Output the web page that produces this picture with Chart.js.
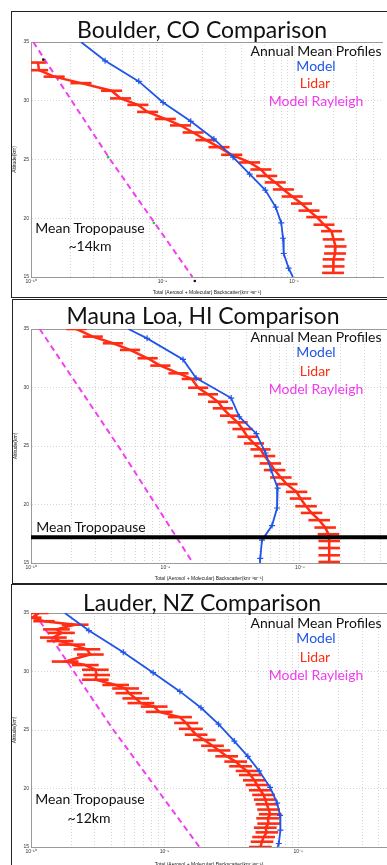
<!DOCTYPE html>
<html>
<head>
<meta charset="utf-8">
<script src="https://cdn.jsdelivr.net/npm/chart.js@4.4.1/dist/chart.umd.min.js"></script>
<style>
  html, body { margin: 0; padding: 0; background: #fff; }
  body { width: 387px; height: 865px; overflow: hidden; position: relative; font-family: Lato, "Open Sans", sans-serif; }
  .panel { position: absolute; border-left: 1px solid #222; border-top: 1px solid #222; border-bottom: 1px solid #222; background: #fff; }
  .panel canvas { position: absolute; left: 0; top: 0; }
  .txt { position: absolute; white-space: nowrap; transform: translate(-50%, -50%); line-height: 1; }
  .title { font-size: 23px; color: #111; }
  .leg { font-size: 14px; color: #111; }
  .blue { color: #1f55e8; }
  .red { color: #ff2d14; }
  .mag { color: #ee3cee; }
</style>
</head>
<body>

<div class="panel" style="left:11px; top:11px; width:376px; height:285px;"><canvas id="c1" width="375" height="285"></canvas></div>
<div class="panel" style="left:12px; top:299px; width:375px; height:283px;"><canvas id="c2" width="374" height="283"></canvas></div>
<div class="panel" style="left:11px; top:584px; width:376px; height:290px;"><canvas id="c3" width="375" height="284"></canvas></div>

<div class="txt title" style="left:202px; top:29px;">Boulder, CO Comparison</div>
<div class="txt leg" style="left:316px; top:51px;">Annual Mean Profiles</div>
<div class="txt leg blue" style="left:316px; top:66px;">Model</div>
<div class="txt leg red" style="left:315px; top:83px;">Lidar</div>
<div class="txt leg mag" style="left:316px; top:101px;">Model Rayleigh</div>
<div class="txt leg" style="left:90px; top:228px;">Mean Tropopause</div>
<div class="txt leg" style="left:90px; top:246px;">~14km</div>

<div class="txt title" style="left:203px; top:315px;">Mauna Loa, HI Comparison</div>
<div class="txt leg" style="left:316px; top:337px;">Annual Mean Profiles</div>
<div class="txt leg blue" style="left:316px; top:352px;">Model</div>
<div class="txt leg red" style="left:315px; top:371px;">Lidar</div>
<div class="txt leg mag" style="left:316px; top:389px;">Model Rayleigh</div>
<div class="txt leg" style="left:91px; top:527px;">Mean Tropopause</div>

<div class="txt title" style="left:202px; top:602px;">Lauder, NZ Comparison</div>
<div class="txt leg" style="left:316px; top:623px;">Annual Mean Profiles</div>
<div class="txt leg blue" style="left:316px; top:638px;">Model</div>
<div class="txt leg red" style="left:315px; top:657px;">Lidar</div>
<div class="txt leg mag" style="left:316px; top:675px;">Model Rayleigh</div>
<div class="txt leg" style="left:90px; top:799px;">Mean Tropopause</div>
<div class="txt leg" style="left:89px; top:818px;">~12km</div>

<script>
// axis ticks
const yTicks = [15, 20, 25, 30, 35];
const xDecades = [1e-10, 1e-9, 1e-8];
const xDecadeLabels = ['10\u207B\u00B9\u2070', '10\u207B\u2079', '10\u207B\u2078'];
const xMinor = [1, 2, 3, 4, 5, 6, 7, 8, 9];
const xTitle = 'Total (Aerosol + Molecular) Backscatter(km\u207B\u00B9sr\u207B\u00B9)';
const yTitle = 'Altitude(km)';

// Boulder, CO
const boulderModelAlt = [35.0, 33.4, 31.65, 29.85, 28.25, 26.75, 25.2, 23.75, 22.4, 20.95, 19.6, 18.3, 17.0, 15.75, 15.0];
const boulderModelVal = [2.40e-10, 3.66e-10, 6.6e-10, 1.01e-9, 1.64e-9, 2.46e-9, 3.44e-9, 4.6e-9, 6.05e-9, 7.25e-9, 8.0e-9, 8.25e-9, 8.35e-9, 9.1e-9, 9.8e-9];
const boulderLidarAlt = [33.25, 32.6, 32.05, 31.5, 30.85, 30.2, 29.65, 29.05, 28.45, 27.9, 27.3, 26.65, 26.05, 25.4, 24.75, 24.15, 23.6, 23.05, 22.45, 21.85, 21.25, 20.65, 20.1, 19.45, 18.9, 18.2, 17.6, 17.0, 16.5, 15.9, 15.35];
const boulderLidarVal = [1.13e-10, 1.15e-10, 1.5e-10, 2.4e-10, 4.1e-10, 4.8e-10, 6.5e-10, 7.7e-10, 1.05e-9, 1.37e-9, 1.71e-9, 2.14e-9, 2.69e-9, 3.36e-9, 4.6e-9, 5.6e-9, 6.2e-9, 7.2e-9, 8.3e-9, 9.7e-9, 1.14e-8, 1.3e-8, 1.49e-8, 1.69e-8, 1.93e-8, 2.0e-8, 2.07e-8, 2.05e-8, 2.0e-8, 2.0e-8, 1.98e-8];
const boulderLidarErr = [0.06, 0.07, 0.08, 0.08, 0.08, 0.08, 0.08, 0.08, 0.08, 0.08, 0.08, 0.08, 0.08, 0.08, 0.08, 0.08, 0.08, 0.08, 0.08, 0.08, 0.08, 0.08, 0.08, 0.08, 0.08, 0.083, 0.083, 0.083, 0.083, 0.083, 0.083];
const boulderRayAlt = [35, 25, 15];
const boulderRayVal = [1.04e-10, 4.0e-10, 1.69e-9];
const boulderDotAlt = [33.5, 25.2, 19.6, 14.66];
const boulderDotVal = [1.24e-10, 3.86e-10, 8.6e-10, 1.76e-9];
const boulderDotColor = ['#111', '#22cc33', '#22cc33', '#111'];

// Mauna Loa, HI
const maunaModelAlt = [35.0, 34.2, 32.4, 30.8, 29.1, 27.5, 26.05, 24.4, 22.95, 21.4, 19.7, 18.2, 16.95, 15.4, 15.0];
const maunaModelVal = [5.3e-10, 7.3e-10, 1.35e-9, 1.69e-9, 3.08e-9, 3.54e-9, 4.74e-9, 5.55e-9, 6.1e-9, 6.83e-9, 6.76e-9, 6.2e-9, 5.22e-9, 5.07e-9, 5.05e-9];
const maunaLidarAlt = [35.0, 34.35, 33.78, 33.21, 32.5, 31.87, 31.21, 30.73, 29.98, 29.42, 28.78, 28.22, 27.59, 27.02, 26.45, 25.79, 25.22, 24.71, 24.14, 23.51, 22.94, 22.31, 21.74, 21.08, 20.51, 19.85, 19.28, 18.66, 18.03, 17.46, 16.88, 16.28, 15.66, 15.09];
const maunaLidarVal = [2.18e-10, 2.88e-10, 4.07e-10, 5.45e-10, 7.37e-10, 9.16e-10, 1.25e-9, 1.57e-9, 1.75e-9, 2.07e-9, 2.46e-9, 2.67e-9, 3.02e-9, 3.44e-9, 3.74e-9, 4.07e-9, 4.55e-9, 5.09e-9, 5.45e-9, 6.03e-9, 6.48e-9, 7.21e-9, 7.98e-9, 9.44e-9, 1.01e-8, 1.11e-8, 1.22e-8, 1.39e-8, 1.54e-8, 1.63e-8, 1.65e-8, 1.65e-8, 1.65e-8, 1.65e-8];
const maunaLidarErr = [0.075, 0.075, 0.075, 0.075, 0.075, 0.075, 0.075, 0.075, 0.075, 0.075, 0.075, 0.075, 0.075, 0.075, 0.075, 0.075, 0.075, 0.075, 0.08, 0.08, 0.08, 0.08, 0.08, 0.08, 0.08, 0.08, 0.08, 0.08, 0.08, 0.08, 0.08, 0.08, 0.08, 0.08];
const maunaRayAlt = [35, 24.8, 15];
const maunaRayVal = [1.16e-10, 4.57e-10, 1.6e-9];
const maunaTropopause = 17.2;

// Lauder, NZ
const lauderModelAlt = [35.0, 33.5, 31.65, 29.9, 28.3, 26.9, 25.5, 24.05, 22.75, 21.5, 20.1, 18.75, 17.7, 16.45, 15.3, 15.0];
const lauderModelVal = [1.79e-10, 2.71e-10, 4.9e-10, 8.2e-10, 1.3e-9, 1.87e-9, 2.53e-9, 3.32e-9, 4.19e-9, 5.1e-9, 6.15e-9, 6.95e-9, 7.3e-9, 7.35e-9, 7.15e-9, 7.0e-9];
const lauderLidarAlt = [35.0, 34.6, 34.3, 34.0, 33.6, 33.3, 32.9, 32.6, 32.3, 31.9, 31.45, 30.85, 30.55, 30.15, 29.7, 29.3, 28.85, 28.55, 28.15, 27.7, 27.3, 27.0, 26.55, 26.1, 25.6, 25.1, 24.6, 24.15, 23.65, 23.25, 22.75, 22.3, 21.9, 21.5, 21.15, 20.7, 20.3, 19.85, 19.45, 19.05, 18.65, 18.2, 17.8, 17.45, 17.0, 16.65, 16.25, 15.85, 15.45, 15.0];
const lauderLidarVal = [1.15e-10, 1.02e-10, 1.25e-10, 2.14e-10, 1.55e-10, 1.69e-10, 1.47e-10, 1.65e-10, 2.02e-10, 2.62e-10, 2.78e-10, 1.8e-10, 2.55e-10, 3.03e-10, 3.1e-10, 3.03e-10, 4.3e-10, 5.1e-10, 5.4e-10, 6.08e-10, 6.64e-10, 8.35e-10, 9.1e-10, 1.3e-9, 1.45e-9, 1.57e-9, 1.72e-9, 1.98e-9, 2.28e-9, 2.55e-9, 2.91e-9, 3.4e-9, 3.7e-9, 4.14e-9, 4.38e-9, 4.69e-9, 4.91e-9, 5.2e-9, 5.5e-9, 5.66e-9, 5.82e-9, 6.0e-9, 6.17e-9, 5.9e-9, 6.0e-9, 5.66e-9, 5.82e-9, 5.5e-9, 5.35e-9, 5.2e-9];
const lauderLidarErr = [0.07, 0.07, 0.08, 0.1, 0.1, 0.1, 0.1, 0.1, 0.1, 0.1, 0.1, 0.1, 0.1, 0.1, 0.1, 0.1, 0.1, 0.1, 0.1, 0.1, 0.1, 0.1, 0.1, 0.09, 0.09, 0.09, 0.085, 0.085, 0.085, 0.085, 0.085, 0.085, 0.085, 0.085, 0.085, 0.085, 0.085, 0.085, 0.085, 0.085, 0.085, 0.085, 0.085, 0.085, 0.085, 0.085, 0.085, 0.085, 0.085, 0.085];
const lauderRayAlt = [35, 25.15, 15];
const lauderRayVal = [1.06e-10, 4.05e-10, 1.82e-9];

const BLUE = '#1f55e8';
const RED = '#ff2d14';
const MAGENTA = '#f040f0';
const GRID = '#d4d4d4';
const FONT = 'Liberation Sans';

function pts(vals, alts) {
  return vals.map((v, i) => ({x: v, y: alts[i]}));
}

// horizontal error bars on the lidar profile, in decades either side
const errorBars = {
  id: 'errorBars',
  afterDatasetDraw(chart, args) {
    const ds = chart.data.datasets[args.index];
    if (!ds.errDec) return;
    const {ctx, chartArea: a, scales: {x, y}} = chart;
    ctx.save();
    ctx.beginPath();
    ctx.rect(a.left, a.top, a.right - a.left, a.bottom - a.top);
    ctx.clip();
    ctx.strokeStyle = ds.borderColor;
    ctx.lineWidth = 2.6;
    ds.data.forEach((p, j) => {
      const f = Math.pow(10, ds.errDec[j]);
      const py = y.getPixelForValue(p.y);
      ctx.beginPath();
      ctx.moveTo(x.getPixelForValue(p.x / f), py);
      ctx.lineTo(x.getPixelForValue(p.x * f), py);
      ctx.stroke();
    });
    ctx.restore();
  }
};

function makeChart(id, o) {
  const xGrid = [];
  xDecades.forEach(d => xMinor.forEach(m => { if (m * d <= o.xMax) xGrid.push(m * d); }));

  const datasets = [];
  if (o.tropo) {
    datasets.push({
      data: [{x: 1e-10, y: o.tropo}, {x: o.xMax, y: o.tropo}],
      showLine: true, borderColor: '#000', borderWidth: 4, pointRadius: 0
    });
  }
  if (o.dots) {
    datasets.push({
      data: o.dots, showLine: false, pointRadius: 1.3, pointBorderWidth: 0,
      pointBackgroundColor: o.dotColor, clip: false
    });
  }
  datasets.push({
    data: o.model, showLine: true, borderColor: BLUE, borderWidth: 1.8,
    pointStyle: 'cross', pointBorderColor: BLUE, pointBorderWidth: 1.2,
    pointRadius: c => (c.raw && (c.raw.y >= 35 || c.raw.y <= 15)) ? 0 : 3
  });
  datasets.push({
    data: o.lidar, errDec: o.err, showLine: true, borderColor: RED, borderWidth: 2.5, pointRadius: 0
  });
  datasets.push({
    data: o.ray, showLine: true, borderColor: MAGENTA, borderWidth: 2, borderDash: [6, 4], pointRadius: 0
  });

  return new Chart(document.getElementById(id), {
    type: 'scatter',
    data: {datasets: datasets},
    plugins: [errorBars],
    options: {
      responsive: false,
      animation: false,
      devicePixelRatio: 1,
      layout: {padding: {top: o.top, left: 0, right: 0, bottom: 0}},
      plugins: {legend: {display: false}, tooltip: {enabled: false}},
      scales: {
        x: {
          type: 'logarithmic', min: 1e-10, max: o.xMax,
          afterBuildTicks: s => { s.ticks = xGrid.map(v => ({value: v})); },
          afterFit: s => { s.height = o.axisH; },
          ticks: {
            autoSkip: false, maxRotation: 0, padding: 2, color: '#333',
            font: {size: 5, family: FONT},
            callback: v => { const k = xDecades.indexOf(v); return k >= 0 ? xDecadeLabels[k] : ''; }
          },
          grid: {color: GRID, drawTicks: false},
          border: {color: '#999', dash: [1, 2]},
          title: {display: true, text: xTitle, color: '#222', font: {size: 5, family: FONT}, padding: {top: 0, bottom: 1}}
        },
        y: {
          type: 'linear', min: 15, max: 35,
          afterBuildTicks: s => { s.ticks = yTicks.map(v => ({value: v})); },
          afterFit: s => { s.width = o.axisW; },
          ticks: {padding: 2, color: '#333', font: {size: 5, family: FONT}},
          grid: {color: c => (c.tick && c.tick.value === 35) ? '#999' : GRID, drawTicks: false},
          border: {color: '#999', dash: c => (c.tick && c.tick.value === 35) ? [] : [1, 2]},
          title: {display: true, text: yTitle, color: '#222', font: {size: 5, family: FONT}, padding: 0}
        }
      }
    }
  });
}

makeChart('c1', {
  xMax: 4.75e-8, top: 30, axisW: 19, axisH: 20,
  model: pts(boulderModelVal, boulderModelAlt),
  lidar: pts(boulderLidarVal, boulderLidarAlt), err: boulderLidarErr,
  ray: pts(boulderRayVal, boulderRayAlt),
  dots: pts(boulderDotVal, boulderDotAlt), dotColor: boulderDotColor
});

makeChart('c2', {
  xMax: 4.44e-8, top: 29, axisW: 18, axisH: 20,
  model: pts(maunaModelVal, maunaModelAlt),
  lidar: pts(maunaLidarVal, maunaLidarAlt), err: maunaLidarErr,
  ray: pts(maunaRayVal, maunaRayAlt),
  tropo: maunaTropopause
});

makeChart('c3', {
  xMax: 4.61e-8, top: 28, axisW: 19, axisH: 22,
  model: pts(lauderModelVal, lauderModelAlt),
  lidar: pts(lauderLidarVal, lauderLidarAlt), err: lauderLidarErr,
  ray: pts(lauderRayVal, lauderRayAlt)
});
</script>
</body>
</html>
